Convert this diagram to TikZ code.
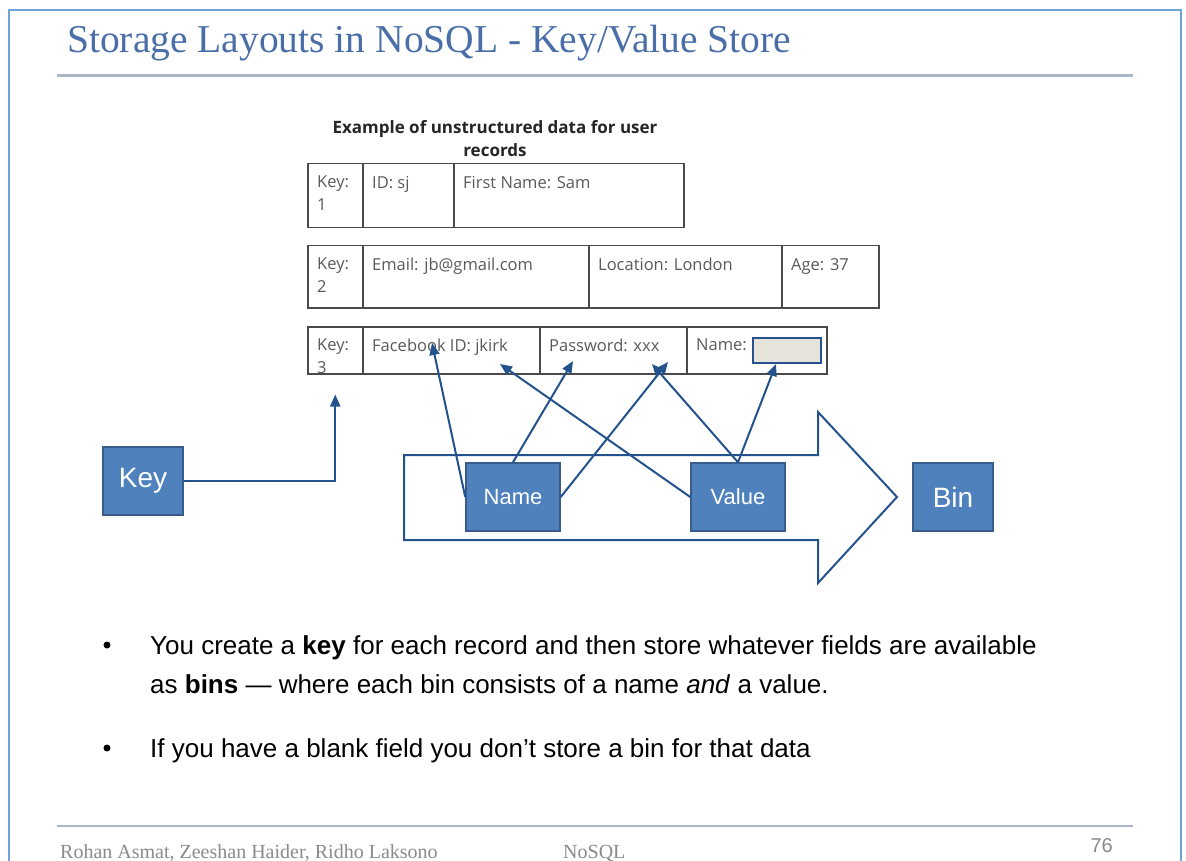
\documentclass[tikz,border=0pt]{standalone}
\usepackage{fontspec}
\setmainfont{Liberation Serif}
\setsansfont{Liberation Sans}
\newfontfamily\opensans{Open Sans}
\usetikzlibrary{arrows.meta, positioning, calc}
\definecolor{framesky}{HTML}{6FA3DC}
\definecolor{ruleslate}{HTML}{A9B6C8}
\definecolor{titleblue}{HTML}{4A6FA8}
\definecolor{boxblue}{HTML}{4F81BD}
\definecolor{boxedge}{HTML}{385D8A}
\definecolor{linkblue}{HTML}{24528C}
\definecolor{cellgrey}{HTML}{4A4A4A}
\definecolor{cellink}{HTML}{5A5A5A}
\definecolor{blankfill}{HTML}{E6E3DA}
\definecolor{footgrey}{HTML}{8A8A8A}

\begin{document}
\begin{tikzpicture}[x=1pt, y=-1pt,
    keybox/.style={rectangle, fill=boxblue, draw=boxedge, line width=1.5pt, text=white,
      font=\sffamily\fontsize{28}{28}\selectfont, minimum width=80pt, minimum height=68pt, inner sep=0pt},
    binpart/.style={keybox, minimum width=94pt, font=\sffamily\fontsize{22}{22}\selectfont},
    cellbox/.style={rectangle, draw=cellgrey, line width=1.5pt, anchor=north west, inner sep=0pt},
    celltext/.style={anchor=north west, inner sep=0pt, xshift=10pt, yshift=-13pt, align=left,
      text=cellink, font=\opensans\fontsize{16.5}{23}\selectfont},
    link/.style={draw=linkblue, line width=2pt, -{Triangle[length=12pt, width=10pt]}},
    bullettext/.style={anchor=base west, inner sep=0pt, font=\sffamily\fontsize{26}{26}\selectfont}]

  \fill[white] (0,0) rectangle (1186,861);
  \useasboundingbox (0,0) rectangle (1186,861);

  % slide frame, title and footer
  \draw[framesky, line width=2.5pt] (9,875) -- (9,10) -- (1181,10) -- (1181,875);
  \node (title) [anchor=base west, inner sep=0pt, text=titleblue, font=\rmfamily\fontsize{39.5}{39.5}\selectfont]
    at (67,53) {Storage Layouts in NoSQL - Key/Value Store};
  \draw[ruleslate, line width=3pt] (57,76) -- (1133,76);
  \draw[ruleslate, line width=2.5pt] (57,826) -- (1133,826);
  \node (authors) [anchor=base west, inner sep=0pt, text=footgrey, font=\rmfamily\fontsize{20}{20}\selectfont]
    at (60,858) {Rohan Asmat, Zeeshan Haider, Ridho Laksono};
  \node (topic) [anchor=base west, inner sep=0pt, text=footgrey, font=\rmfamily\fontsize{20}{20}\selectfont]
    at (563,858) {NoSQL};
  \node (page) [anchor=base east, inner sep=0pt, text=footgrey, font=\sffamily\fontsize{20}{20}\selectfont]
    at (1113,852) {76};

  % table of records
  \node (caption) [align=center, inner sep=0pt, font=\opensans\bfseries\fontsize{17}{23}\selectfont, text=black!85]
    at (495,139) {Example of unstructured data for user\\records};

  \node (k1) [cellbox, minimum width=55pt, minimum height=64pt] at (307,163) {};
  \node (id1) [cellbox, minimum width=91pt, minimum height=64pt] at (362,163) {};
  \node (fn1) [cellbox, minimum width=230pt, minimum height=64pt] at (453,163) {};
  \node (k2) [cellbox, minimum width=55pt, minimum height=62pt] at (307,245) {};
  \node (em2) [cellbox, minimum width=226pt, minimum height=62pt] at (362,245) {};
  \node (loc2) [cellbox, minimum width=193pt, minimum height=62pt] at (588,245) {};
  \node (age2) [cellbox, minimum width=97pt, minimum height=62pt] at (781,245) {};
  \node (k3) [cellbox, minimum width=55pt, minimum height=47pt] at (307,326) {};
  \node (fb3) [cellbox, minimum width=177pt, minimum height=47pt] at (362,326) {};
  \node (pw3) [cellbox, minimum width=147pt, minimum height=47pt] at (539,326) {};
  \node (nm3) [cellbox, minimum width=140pt, minimum height=47pt] at (686,326) {};

  \node (k1t) [celltext] at (k1.north west) {Key:\\1};
  \node (id1t) [celltext] at (id1.north west) {ID: sj};
  \node (fn1t) [celltext] at (fn1.north west) {First Name: Sam};
  \node (k2t) [celltext] at (k2.north west) {Key:\\2};
  \node (em2t) [celltext] at (em2.north west) {Email: jb@gmail.com};
  \node (loc2t) [celltext] at (loc2.north west) {Location: London};
  \node (age2t) [celltext] at (age2.north west) {Age: 37};
  \node (k3t) [celltext] at (k3.north west) {Key:\\3};
  \node (fb3t) [celltext] at (fb3.north west) {Facebook ID: jkirk};
  \node (pw3t) [celltext] at (pw3.north west) {Password: xxx};
  \node (nm3t) [celltext] at (nm3.north west) {Name:};
  \node (blank) [rectangle, anchor=north west, fill=blankfill, draw=linkblue, line width=2pt,
    minimum width=68pt, minimum height=25pt, inner sep=0pt] at (752,337) {};

  % bin arrow with name and value
  \draw[linkblue, line width=2pt, line join=miter]
    (404,455) -- (818,455) -- (818,412) -- (897,497) -- (818,583) -- (818,540) -- (404,540) -- cycle;
  \node (key) [keybox] at (143,481) {Key};
  \node (name) [binpart] at (513,497) {Name};
  \node (value) [binpart] at (738,497) {Value};
  \node (bin) [keybox] at (953,497) {Bin};

  \coordinate (fbtip) at (432,343);
  \coordinate (jktip) at (500,364);
  \coordinate (pwtip) at (573,361);
  \coordinate (xxtip) at (652,364);
  \coordinate (nmtip) at (668,362);

  \draw[link] (key.east) -| ([yshift=-20pt]k3.south);
  \draw[link] (name.west) -- (fbtip);
  \draw[link] (name.north) -- (pwtip);
  \draw[link] (name.east) -- (nmtip);
  \draw[link] (value.west) -- (jktip);
  \draw[link] (value.north) -- (xxtip);
  \draw[link] (value.north) -- ([xshift=-11pt]blank.south);

  % notes
  \node (dot1) [circle, fill=black, inner sep=0pt, minimum size=7pt] at (107,645) {};
  \node (note1) [bullettext] at (150,654) {You create a \textbf{key} for each record and then store whatever fields are available};
  \node (note1b) [bullettext] at (150,693) {as \textbf{bins} --- where each bin consists of a name \textit{and} a value.};
  \node (dot2) [circle, fill=black, inner sep=0pt, minimum size=7pt] at (107,748) {};
  \node (note2) [bullettext] at (150,757) {If you have a blank field you don't store a bin for that data};
\end{tikzpicture}
\end{document}
